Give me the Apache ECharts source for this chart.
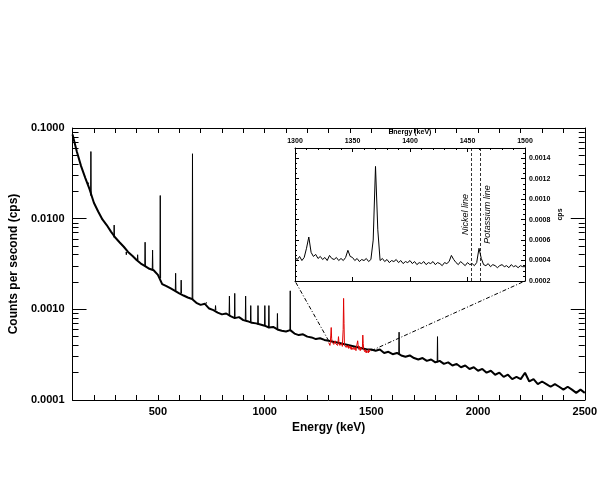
<!DOCTYPE html>
<html><head><meta charset="utf-8">
<script src="https://cdn.jsdelivr.net/npm/echarts@6/dist/echarts.min.js"></script>
<style>html,body{margin:0;background:#fff}#c{width:600px;height:500px}</style>
</head><body><div id="c"></div>
<script>
const mainE0 = 100, mainStep = 20;
const mainCps = [.085,.055,.038,.028,.021,.015,.012,.0098,.0085,.0072,.0062,.0055,.0049,.0043,.0039,.0035,.0032,.0030,.0028,.0027,
.0024,.0019,.0018,.0017,.0016,.0015,.00142,.00135,.0013,.00118,.00112,.00115,.00102,.00098,.00092,.00088,.0009,.00084,.0008,.00082,
.00076,.00074,.00071,.0007,.00068,.00066,.00063,.00064,.0006,.00058,.00057,.00059,.00054,.00052,.00053,.0005,.00049,.00047,.00048,.00046,
.00045,.00044,.00043,.00042,.00041,.0004,.00039,.00038,.00037,.00036,.00036,.00035,.00036,.00033,.00034,.00032,.00033,.00031,.0003,.00031,
.00029,.00028,.00029,.00027,.00028,.00026,.00027,.00025,.00026,.00024,.00025,.00023,.00024,.00022,.00023,.00021,.00022,.0002,.00021,.00019,
.0002,.00018,.00019,.00017,.00018,.00017,.0002,.00016,.00017,.00015,.00016,.00015,.00014,.00015,.00014,.00013,.00014,.00013,.00012,.00013,.00012];
const peakE    = [175,186,240,295,352,405,440,475,511,583,609,662,727,770,835,860,911,935,969,1001,1020,1060,1120,1630,1810];
const peakTop  = [.025,.055,.010,.0085,.004,.004,.0055,.0045,.018,.0025,.0021,.052,.0012,.0011,.0014,.0015,.0014,.0011,.0011,.0011,.0011,.0009,.0016,.00056,.0005];
const peakBase = [.024,.018,.0098,.0062,.0043,.0035,.003,.0027,.0022,.0016,.0015,.0013,.00115,.00098,.00086,.0008,.00076,.00071,.00068,.00066,.00063,.0006,.00058,.00032,.00026];
const insetE0 = 1300, insetStep = 2;
const insetCps = [.00043,.00041,.00044,.0004,.00043,
.00052,.00063,.00048,.00044,.00046,
.00042,.00044,.00041,.00043,.0004,
.00045,.00042,.00041,.00043,.0004,
.00042,.0004,.00043,.00050,.00044,
.00043,.0004,.00042,.00039,.00041,
.0004,.00042,.00039,.00041,.0006,
.00132,.0007,.0004,.00042,.00039,
.00041,.00038,.0004,.00039,.00041,
.00038,.0004,.00037,.00039,.00038,
.0004,.00037,.00039,.00036,.00038,
.00037,.00039,.00036,.00038,.00037,
.00039,.00036,.00038,.00037,.00035,
.00038,.00037,.00039,.00045,.00041,
.00038,.00036,.00039,.00037,.00035,
.00038,.00036,.00037,.00035,.00038,
.00052,.00042,.00036,.00035,.00037,
.00034,.00036,.00035,.00033,.00035,
.00036,.00034,.00035,.00033,.00036,
.00034,.00035,.00033,.00035,.00034,
.00034];
const lineE = [1453, 1461];
const lineNames = ['Nickel line', 'Potassium line'];

const mainData = mainCps.map((v,i)=>[mainE0+i*mainStep, v]);
const insetData = insetCps.map((v,i)=>[insetE0+i*insetStep, v]);
const peakData = [];
peakE.forEach((e,i)=>{peakData.push([e-1.5,peakBase[i]],[e,peakTop[i]],[e+1.5,peakBase[i]],[null,null]);});

const F = 'Liberation Sans, Arial, sans-serif';
const lab = {fontFamily:F, fontWeight:'bold', color:'#000'};
const chart = echarts.init(document.getElementById('c'));
chart.setOption({
  animation:false,
  grid:[{left:66,right:10,top:128,bottom:100},{left:295,right:75,top:148,bottom:219}],
  xAxis:[
    {gridIndex:0,type:'value',min:100,max:2500,interval:100,position:'bottom',
     name:'Energy (keV)',nameLocation:'middle',nameGap:22,nameTextStyle:{...lab,fontSize:12},
     axisLine:{lineStyle:{color:'#000'}},axisTick:{inside:true,length:5,lineStyle:{color:'#000'}},
     axisLabel:{...lab,fontSize:11,margin:6,formatter:v=>v%500===0?String(v):''},splitLine:{show:false}},
    {gridIndex:0,type:'value',min:100,max:2500,interval:100,position:'top',
     axisLine:{lineStyle:{color:'#000'}},axisTick:{inside:true,length:5,lineStyle:{color:'#000'}},
     axisLabel:{show:false},splitLine:{show:false}},
    {gridIndex:1,type:'value',min:1300,max:1500,interval:50,position:'top',
     name:'Energy (keV)',nameLocation:'middle',nameGap:12,nameTextStyle:{...lab,fontSize:7},
     axisLine:{lineStyle:{color:'#000'}},axisTick:{inside:true,length:4,lineStyle:{color:'#000'}},
     minorTick:{show:true,splitNumber:5,length:2,lineStyle:{color:'#000'}},
     axisLabel:{...lab,fontSize:7,margin:3,formatter:v=>String(v)},splitLine:{show:false}},
    {gridIndex:1,type:'value',min:1300,max:1500,interval:50,position:'bottom',
     axisLine:{lineStyle:{color:'#000'}},axisTick:{inside:true,length:4,lineStyle:{color:'#000'}},
     axisLabel:{show:false},splitLine:{show:false}}
  ],
  yAxis:[
    {gridIndex:0,type:'log',logBase:10,min:0.0001,max:0.1,position:'left',
     name:'Counts per second (cps)',nameLocation:'middle',nameGap:48,nameTextStyle:{...lab,fontSize:12},
     axisLine:{lineStyle:{color:'#000'}},axisTick:{inside:true,length:14,lineStyle:{color:'#000'}},
     minorTick:{show:true,splitNumber:9,length:6,lineStyle:{color:'#000'}},
     axisLabel:{...lab,fontSize:11,margin:8,formatter:v=>v.toFixed(4)},splitLine:{show:false}},
    {gridIndex:0,type:'log',logBase:10,min:0.0001,max:0.1,position:'right',
     axisLine:{lineStyle:{color:'#000'}},axisTick:{inside:true,length:14,lineStyle:{color:'#000'}},
     minorTick:{show:true,splitNumber:9,length:6,lineStyle:{color:'#000'}},
     axisLabel:{show:false},splitLine:{show:false}},
    {gridIndex:1,type:'value',min:0.0002,max:0.0015,interval:0.0002,position:'right',
     name:'cps',nameLocation:'middle',nameGap:32,nameRotate:90,nameTextStyle:{...lab,fontSize:7},
     axisLine:{lineStyle:{color:'#000'}},axisTick:{inside:true,length:4,lineStyle:{color:'#000'}},
     minorTick:{show:true,splitNumber:4,length:2,lineStyle:{color:'#000'}},
     axisLabel:{...lab,fontSize:7,margin:4,showMaxLabel:false,formatter:v=>v.toFixed(4)},splitLine:{show:false}},
    {gridIndex:1,type:'value',min:0.0002,max:0.0015,interval:0.0002,position:'left',
     axisLine:{lineStyle:{color:'#000'}},axisTick:{inside:true,length:4,lineStyle:{color:'#000'}},
     minorTick:{show:true,splitNumber:4,length:2,lineStyle:{color:'#000'}},
     axisLabel:{show:false},splitLine:{show:false}}
  ],
  series:[
    {type:'line',xAxisIndex:0,yAxisIndex:0,data:mainData,showSymbol:false,lineStyle:{color:'#000',width:2}},
    {type:'line',xAxisIndex:0,yAxisIndex:0,data:peakData,showSymbol:false,connectNulls:false,lineStyle:{color:'#000',width:1}},
    {type:'line',xAxisIndex:0,yAxisIndex:0,data:insetData,showSymbol:false,lineStyle:{color:'#e00000',width:1},z:3},
    {type:'line',xAxisIndex:2,yAxisIndex:2,data:insetData,showSymbol:false,lineStyle:{color:'#000',width:1},
     markLine:{symbol:'none',silent:true,label:{show:false},lineStyle:{color:'#000',type:[3,2],width:0.8},
       data:lineE.map(e=>({xAxis:e}))}}
  ]
});
const g = [];
const pairs = [[[1300,0.00045],[1300,0.0002]],[[1500,0.00035],[1500,0.0002]]];
pairs.forEach(p=>{
  const a = chart.convertToPixel({xAxisIndex:0,yAxisIndex:0}, p[0]);
  const b = chart.convertToPixel({xAxisIndex:2,yAxisIndex:2}, p[1]);
  g.push({type:'line',shape:{x1:a[0],y1:a[1],x2:b[0],y2:b[1]},style:{stroke:'#000',lineWidth:1,lineDash:[4,2,1,2]},z:10});
});
const offs = [-5, 7];
lineE.forEach((e,i)=>{
  const p = chart.convertToPixel({xAxisIndex:2,yAxisIndex:2},[e,0.00085]);
  g.push({type:'text',x:p[0]+offs[i],y:p[1],rotation:Math.PI/2,
    style:{text:lineNames[i],font:'italic 9px '+F,fill:'#000',align:'center',verticalAlign:'middle'},z:10});
});
chart.setOption({graphic:g});
</script></body></html>
